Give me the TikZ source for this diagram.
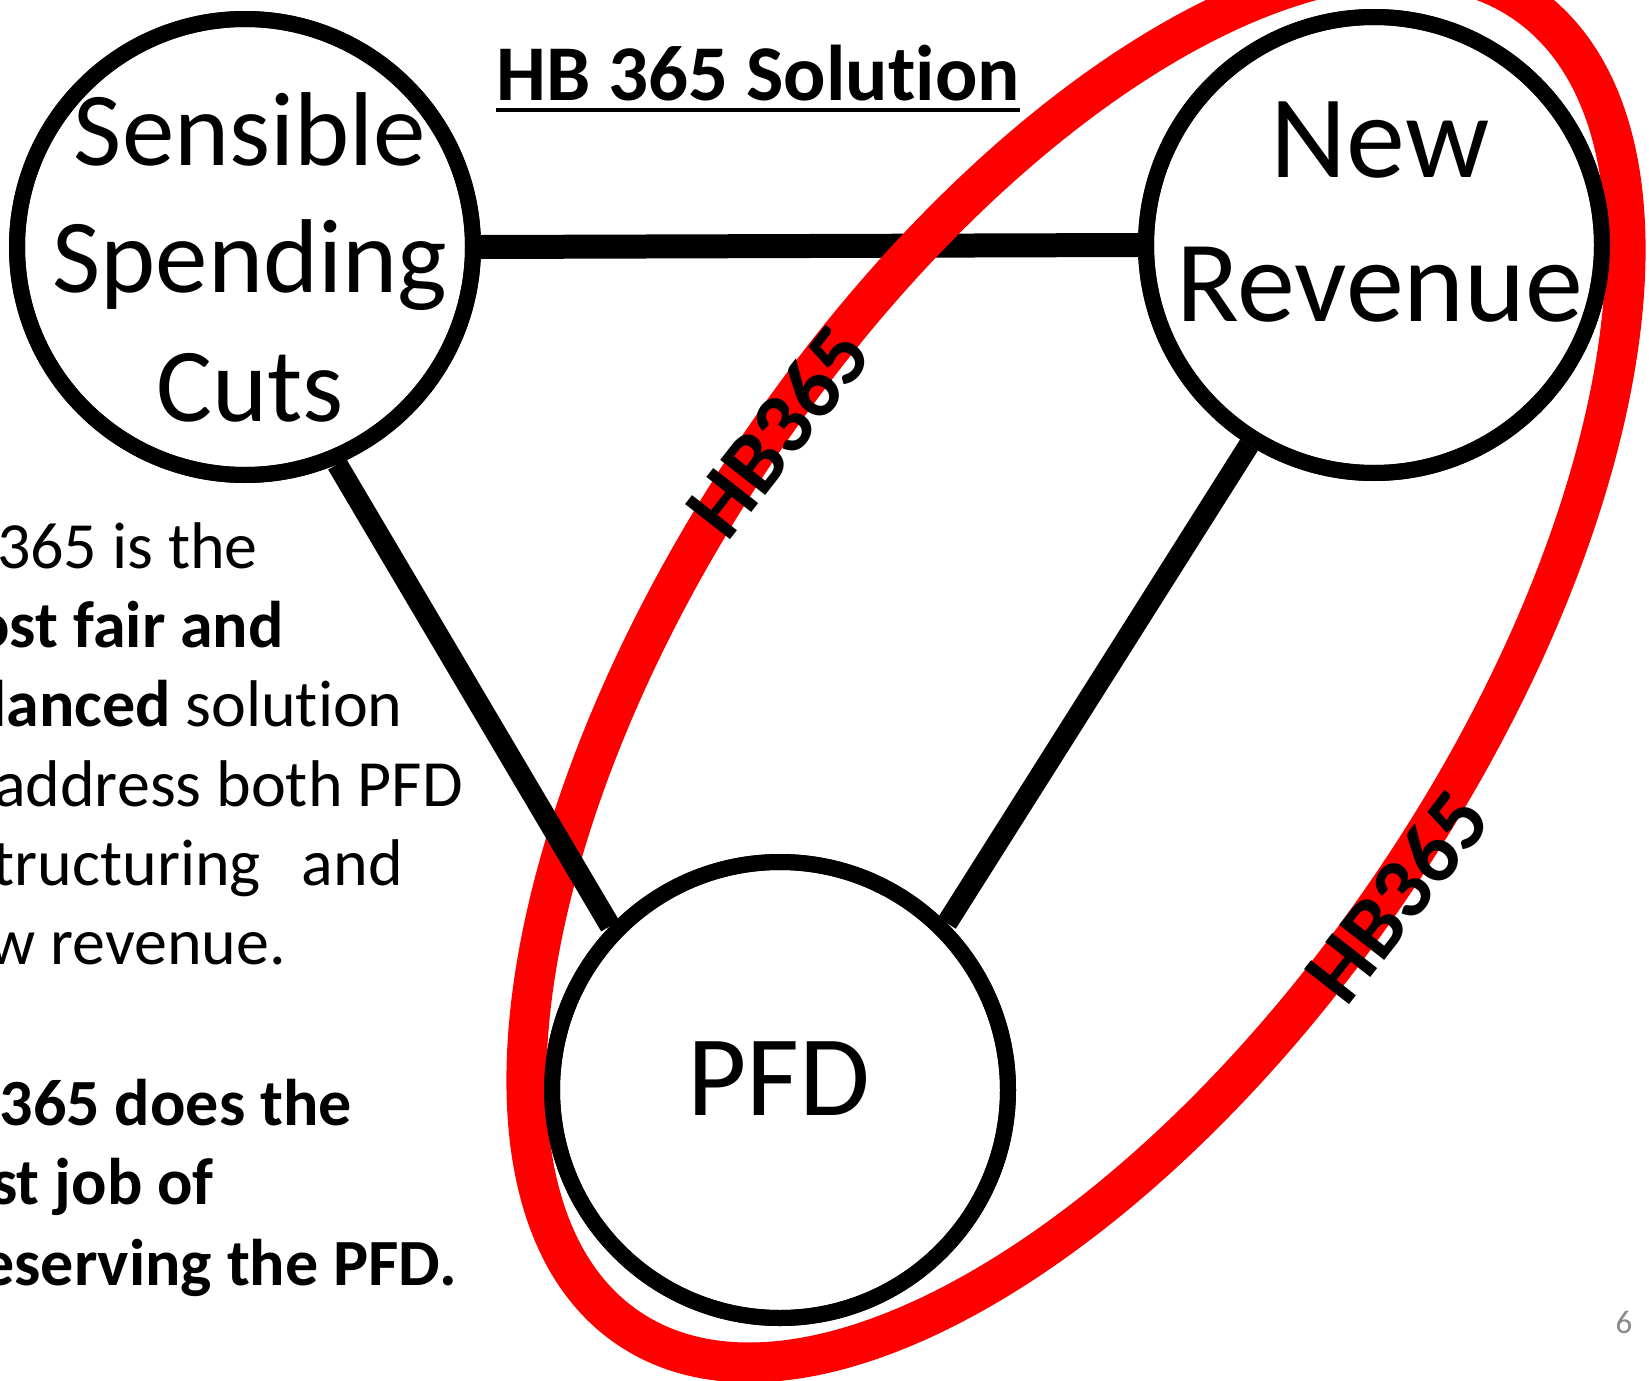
\documentclass[tikz,border=0pt]{standalone}
\usepackage{fontspec}
\setmainfont{Carlito}[Ligatures=NoCommon]
\usepackage[]{xcolor}
\usepackage{tikz}
\definecolor{pagegray}{RGB}{137,137,137}

\begin{document}
\begin{tikzpicture}[x=1pt,y=-1pt,
    bubble/.style={circle, draw, line width=16pt, minimum size=456pt, inner sep=0pt},
    link/.style={line width=21pt},
    bubtxt/.style={inner sep=0pt, anchor=base},
    sidetxt/.style={inner sep=0pt, anchor=base east, font=\fontsize{66}{79}\selectfont},
    hblabel/.style={inner sep=0pt, font=\fontsize{88}{100}\selectfont\bfseries}]
      \useasboundingbox (0,0) rectangle (1649,1381);
      \clip (0,0) rectangle (1649,1381);
      \node[bubble] (cuts) at (245,247) {};
      \node[bubble] (rev) at (1374,245) {};
      \node[bubble] (pfd) at (780,1090) {};
      \coordinate (ell) at (1076,665);
      \draw[line width=24pt] (cuts.east) -- (rev.west);
      \draw[red, line width=40pt, rotate around={56:(ell)}] (ell) ellipse [x radius=800pt, y radius=385pt];
      \draw[link] (cuts.-67) -- (pfd.136);
      \draw[link] (rev.-122) -- (pfd.45);
      \node[bubble] at (cuts) {};
      \node[bubble] at (rev) {};
      \node[bubble] at (pfd) {};
      \node[bubtxt, font=\fontsize{105}{128}\selectfont] (cuts1) at (250,165) {Sensible};
      \node[bubtxt, font=\fontsize{105}{128}\selectfont] (cuts2) at (250,292) {Spending};
      \node[bubtxt, font=\fontsize{105}{128}\selectfont] (cuts3) at (250,421) {Cuts};
      \node[bubtxt, font=\fontsize{118}{140}\selectfont] (rev1) at (1380,177) {New};
      \node[bubtxt, font=\fontsize{116}{140}\selectfont] (rev2) at (1380,321) {Revenue};
      \node[bubtxt, font=\fontsize{115}{140}\selectfont] (pfd1) at (779,1115) {PFD};
      \node[bubtxt, font=\fontsize{79}{95}\selectfont\bfseries] (title) at (758,100) {HB 365 Solution};
      \draw[line width=4pt] ([yshift=-10pt]title.base west) -- ([yshift=-10pt]title.base east);
      \node[hblabel, rotate=52] (hbA) at (778,431) {HB365};
      \node[hblabel, rotate=52] (hbB) at (1397,896) {HB365};
      \node[sidetxt] (l1) at (258,568) {HB 365 is the};
      \node[sidetxt] (l2) at (284,647) {\textbf{most fair and}};
      \node[sidetxt] (l3) at (403,726) {\textbf{balanced} solution};
      \node[sidetxt] (l4) at (463,806) {to address both PFD};
      \node[sidetxt] (l5) at (403,885) {restructuring\hspace{0.62em}and};
      \node[sidetxt] (l6) at (286,964) {new revenue.};
      \node[sidetxt] (l7) at (352,1125) {\textbf{HB 365 does the}};
      \node[sidetxt] (l8) at (214,1204) {\textbf{best job of}};
      \node[sidetxt] (l9) at (457,1285) {\textbf{preserving the PFD.}};
      \node[bubtxt, font=\fontsize{33}{40}\selectfont, text=pagegray] (page) at (1624,1333) {6};
\end{tikzpicture}
\end{document}
